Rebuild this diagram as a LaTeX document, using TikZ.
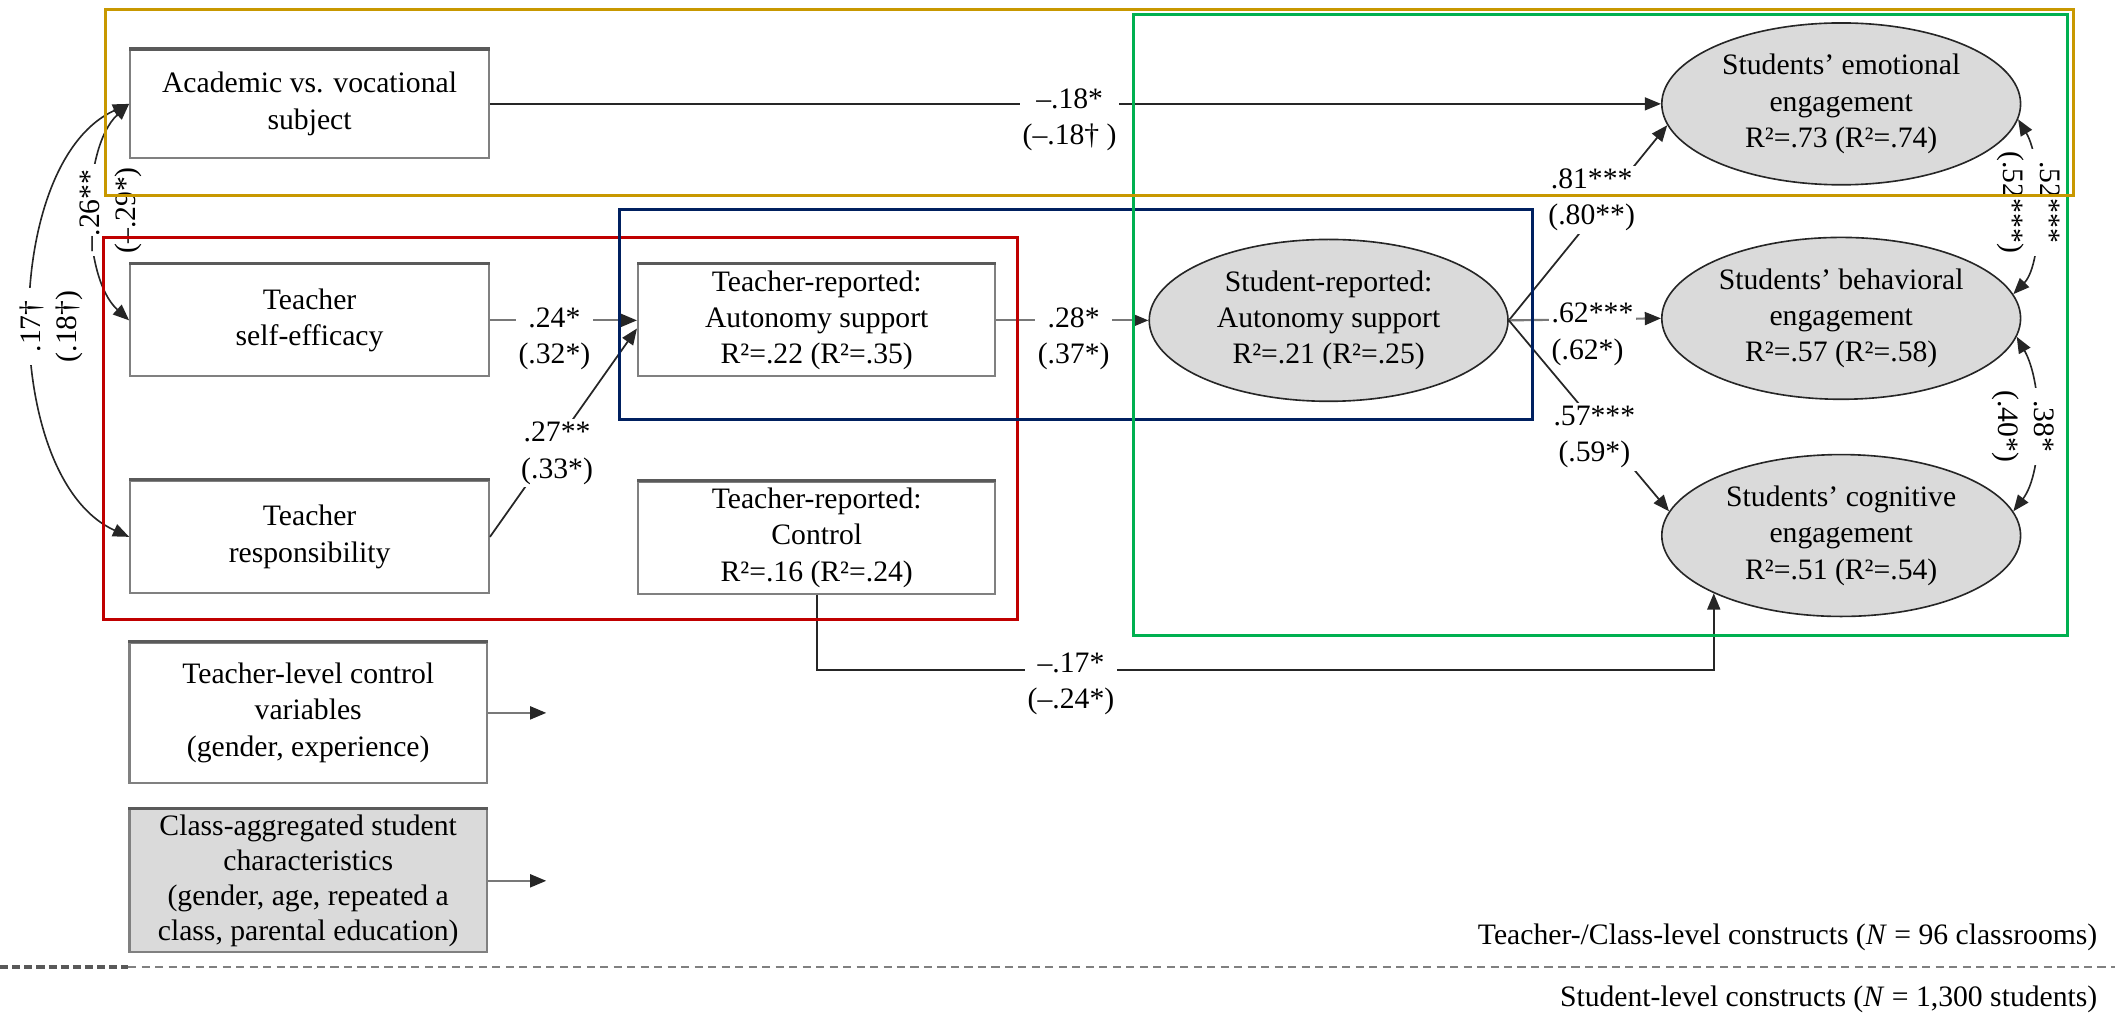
\documentclass[tikz,border=0pt]{standalone}
\usepackage{fontspec}
\setmainfont{Liberation Serif}
\usetikzlibrary{arrows.meta,shapes.geometric,calc}
\definecolor{goldc}{RGB}{200,152,0}
\definecolor{redc}{RGB}{192,0,0}
\definecolor{bluec}{RGB}{0,32,96}
\definecolor{greenc}{RGB}{0,176,80}
\definecolor{boxgray}{RGB}{128,128,128}
\definecolor{boxtopc}{RGB}{90,90,90}
\definecolor{ellfill}{RGB}{218,218,218}
\definecolor{linegray}{RGB}{120,120,120}
\begin{document}
\begin{tikzpicture}[x=0.5pt,y=-0.5pt,
 txt/.style={font=\fontsize{11pt}{13.5pt}\selectfont, align=center},
 box/.style={txt, draw=boxgray, line width=0.75pt, fill=white, inner sep=0pt, minimum width=133pt, minimum height=41pt},
 ell/.style={txt, ellipse, draw=black!85, line width=0.6pt, fill=ellfill, minimum width=133pt, minimum height=60pt, inner sep=0pt},
 lab/.style={txt, fill=white, inner sep=1pt},
 arr/.style={-{Triangle[length=6pt,width=4.8pt]}, line width=0.65pt, draw=black!85},
 garr/.style={-{Triangle[length=6pt,width=4.8pt,color=black!85]}, line width=0.8pt, draw=linegray},
 dbl/.style={{Triangle[length=6pt,width=4.8pt]}-{Triangle[length=6pt,width=4.8pt]}, line width=0.6pt, draw=black!85},
 zone/.style={line width=1.1pt},
 boxtop/.style={draw=boxtopc, line width=1.2pt}]
\useasboundingbox (0,0) rectangle (1568,752);

% nodes
\node[box, minimum height=40pt] (acad) at (229.5,77) {Academic vs. vocational\\subject};
\node[box, minimum height=41.5pt] (tse) at (229.5,237.5) {Teacher\\self-efficacy};
\node[box, minimum height=41.5pt] (tresp) at (229.5,398) {Teacher\\responsibility};
\node[box, minimum width=132.5pt, minimum height=41.5pt] (tra) at (605.5,237.5) {Teacher-reported:\\Autonomy support\\R²=.22 (R²=.35)};
\node[box, minimum width=132.5pt, minimum height=41.5pt] (trc) at (605.5,398.5) {Teacher-reported:\\Control\\R²=.16 (R²=.24)};
\node[ell] (sra) at (985,237.5) {Student-reported:\\Autonomy support\\R²=.21 (R²=.25)};
\node[ell] (emo) at (1365,77) {Students’ emotional\\engagement\\R²=.73 (R²=.74)};
\node[ell] (beh) at (1365,236) {Students’ behavioral\\engagement\\R²=.57 (R²=.58)};
\node[ell] (cog) at (1365,397) {Students’ cognitive\\engagement\\R²=.51 (R²=.54)};
\node[box, minimum width=132.5pt, minimum height=52pt] (tlc) at (228.5,528.5) {Teacher-level control\\variables\\(gender, experience)};
\node[box, fill=ellfill, minimum width=132.5pt, minimum height=53pt, font=\fontsize{11pt}{13pt}\selectfont] (cas) at (228.5,653) {Class-aggregated student\\characteristics\\(gender, age, repeated a\\class, parental education)};

% darker top edges of the boxes
\foreach \b in {acad,tse,tresp,tra,trc,tlc,cas}
  \draw[boxtop] (\b.north west) -- (\b.north east);

% connectors
\draw[arr] (acad.east) -- (emo.west);
\node[lab] (l18) at (793,89) {–.18*\\(–.18† )};
\draw[garr] (tse.east) -- (tra.west);
\node[lab] (l24) at (411,251) {.24*\\(.32*)};
\draw[arr] (tresp.east) -- ([yshift=-3pt]tra.west);
\node[lab] (l27) at (413,336) {.27**\\(.33*)};
\draw[garr] (tra.east) -- (sra.west);
\node[lab] (l28) at (796,251) {.28*\\(.37*)};
\draw[arr] (sra.east) -- (emo.187);
\node[lab] (l81) at (1180,148) {.81***\\(.80**)};
\draw[garr] (sra.east) -- (beh.west);
\node[lab, anchor=west, align=left] (l62) at (1148,248) {.62***\\(.62*)};
\draw[arr] (sra.east) -- (cog.172);
\node[lab] (l57) at (1182,324) {.57***\\(.59*)};
\draw[arr] (trc.south) -- ++(0,56) -| (cog.south west);
\node[lab] (l17c) at (794,507) {–.17*\\(–.24*)};

% correlations
\draw[dbl] (acad.west) .. controls (60,110) and (60,205) .. (tse.west);
\node[lab, rotate=90] (l26) at (82,156) {–.26**\\(–.29*)};
\draw[dbl] (acad.west) .. controls (0,120) and (0,355) .. (tresp.west);
\node[lab, rotate=90] (l17) at (38,242) {.17†\\(.18†)};
\draw[dbl] (emo.-5) .. controls (1515,120) and (1515,195) .. (beh.8);
\node[lab, rotate=-90] (l52) at (1504,150) {.52***\\(.52***)};
\draw[dbl] (beh.-6) .. controls (1515,285) and (1515,350) .. (cog.8);
\node[lab, rotate=-90] (l38) at (1500,316) {.38*\\(.40*)};

% control variables arrows
\coordinate (tlce) at (405,528.5);
\draw[garr] (tlc.east) -- (tlce);
\coordinate (case) at (405,653);
\draw[garr] (cas.east) -- (case);

% frames
\draw[zone, draw=redc] (77,176) rectangle (754,459);
\draw[zone, draw=bluec] (459,155) rectangle (1136,311);
\draw[zone, draw=greenc] (840,11) rectangle (1533,471);
\draw[zone, draw=goldc] (78,7) rectangle (1537,145);

% level separator
\draw[line width=1.3pt, draw=gray!70!black, dash pattern=on 3pt off 1.5pt] (0,717) -- (95,717);
\draw[line width=0.6pt, draw=gray, dash pattern=on 3pt off 2pt] (95,717) -- (1568,717);
\node[txt, anchor=east] (lev1) at (1562,695) {Teacher-/Class-level constructs (\textit{N} = 96 classrooms)};
\node[txt, anchor=east] (lev2) at (1562,741) {Student-level constructs (\textit{N} = 1,300 students)};
\end{tikzpicture}
\end{document}
